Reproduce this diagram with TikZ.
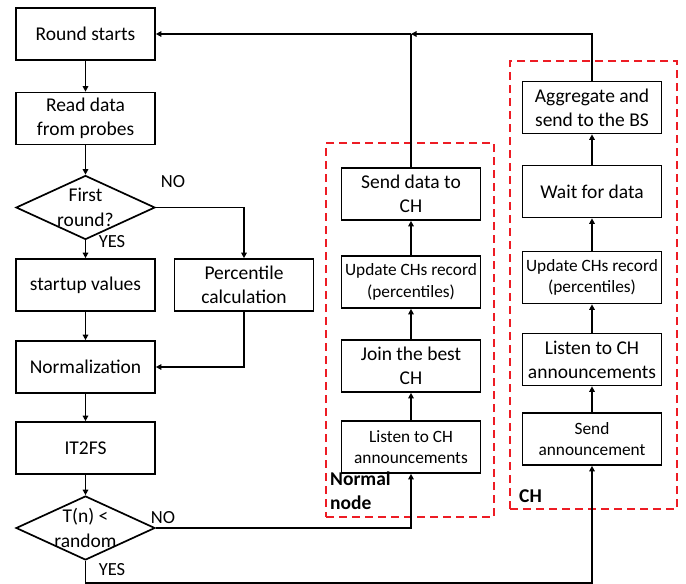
\documentclass[tikz,border=0pt]{standalone}
\usepackage{fontspec}
\setmainfont{Carlito}
\usetikzlibrary{arrows.meta,shapes.geometric,calc}
\definecolor{dred}{RGB}{237,28,36}
\begin{document}
\begin{tikzpicture}[x=1pt,y=-1pt,
  box/.style={draw,line width=1.7pt,minimum width=139pt,minimum height=52pt,inner sep=1pt,align=center,font=\fontsize{19.5}{24}\selectfont},
  sbox/.style={box,font=\fontsize{17.3}{21.5}\selectfont},
  dia/.style={draw,line width=1.7pt,diamond,aspect=2.14,minimum width=139pt,minimum height=64pt,inner sep=0pt},
  diatext/.style={inner sep=0pt,align=center,font=\fontsize{19.5}{25}\selectfont},
  arr/.style={line width=1.7pt,-{Triangle[length=5.5pt,width=5.5pt]}},
  ln/.style={line width=1.7pt},
  lbl/.style={font=\fontsize{18.5}{22}\selectfont,inner sep=0pt},
  grp/.style={draw=dred,line width=1.6pt,dash pattern=on 8pt off 5pt},
  glbl/.style={font=\fontsize{19.5}{24}\selectfont\bfseries,inner sep=0pt,align=left}]
\useasboundingbox (0,0) rectangle (686,584);
% left column
\node[box] (rs) at (85.5,34) {Round starts};
\node[box] (rd) at (85.5,118.5) {Read data\\from probes};
\node[dia] (d1) at (85.5,207.5) {};
\node[diatext] (d1t) at (d1.center) {First\\round?};
\node[box] (sv) at (85.5,285) {startup values};
\node[box] (pc) at (244,285) {Percentile\\calculation};
\node[box] (nm) at (85.5,367) {Normalization};
\node[box] (it) at (85.5,448) {IT2FS};
\node[dia] (d2) at (85.5,528) {};
\node[diatext] (d2t) at (d2.center) {T(n) <\\random};
% normal node group
\node[grp,minimum width=168pt,minimum height=374pt,inner sep=0pt] (gn) at (410,330) {};
\node[box] (ns) at (411,194) {Send data to\\CH};
\node[sbox] (nu) at (411,282) {Update CHs record\\(percentiles)};
\node[box] (nj) at (411,366) {Join the best\\CH};
\node[sbox] (nl) at (411,447) {Listen to CH\\announcements};
\node[glbl,anchor=north west] (gnl) at (330,472) {Normal\\node};
% CH group
\node[grp,minimum width=167pt,minimum height=448pt,inner sep=0pt] (gc) at (593.5,285) {};
\node[box] (ca) at (592,107.5) {Aggregate and\\send to the BS};
\node[box] (cw) at (592,191.5) {Wait for data};
\node[sbox] (cu) at (592,277.5) {Update CHs record\\(percentiles)};
\node[box] (cl) at (592,359.5) {Listen to CH\\announcements};
\node[sbox] (cs) at (592,439) {Send\\announcement};
\node[glbl,anchor=west] (gcl) at (519,496) {CH};
% labels
\node[lbl] (no1) at (173,182) {NO};
\node[lbl] (yes1) at (112,242) {YES};
\node[lbl] (no2) at (163,518) {NO};
\node[lbl] (yes2) at (112,570) {YES};
% connectors left
\draw[arr] (rs) -- (rd);
\draw[arr] (rd) -- (d1);
\draw[arr] (d1) -- (sv);
\draw[arr] (d1.east) -| (pc.north);
\draw[arr] (sv) -- (nm);
\draw[arr] (pc.south) |- (nm.east);
\draw[arr] (nm) -- (it);
\draw[arr] (it) -- (d2);
\draw[arr] (d2.east) -| (nl.south);
\draw[arr] (d2.south) -- ++(0,22) -| (cs.south);
% normal node chain
\draw[arr] (nl) -- (nj);
\draw[arr] (nj) -- (nu);
\draw[arr] (nu) -- (ns);
% CH chain
\draw[arr] (cs) -- (cl);
\draw[arr] (cl) -- (cu);
\draw[arr] (cu) -- (cw);
\draw[arr] (cw) -- (ca);
% return to round start
\coordinate (j) at (ns.north |- rs.east);
\draw[arr] (ca.north) |- (j);
\draw[ln] (ns.north) -- (j);
\draw[arr] (j) -- (rs.east);
\end{tikzpicture}
\end{document}
